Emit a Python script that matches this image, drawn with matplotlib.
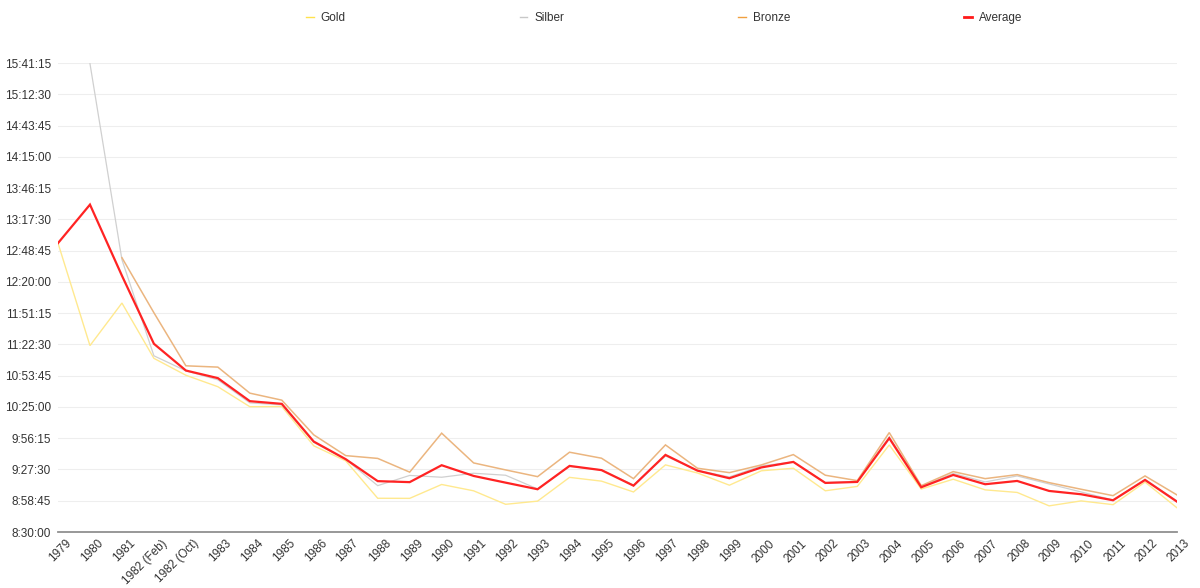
import numpy as np
import matplotlib.pyplot as plt
import matplotlib.transforms as mtransforms
from matplotlib.ticker import FuncFormatter

plt.rcParams['font.family'] = ['Liberation Sans', 'DejaVu Sans']

# Rennen / Kategorien
years = ["1979", "1980", "1981", "1982 (Feb)", "1982 (Oct)", "1983", "1984", "1985",
         "1986", "1987", "1988", "1989", "1990", "1991", "1992", "1993", "1994",
         "1995", "1996", "1997", "1998", "1999", "2000", "2001", "2002", "2003",
         "2004", "2005", "2006", "2007", "2008", "2009", "2010", "2011", "2012", "2013"]

gold = ["12:55:38", "11:21:24", "12:00:32", "11:09:40", "10:54:08", "10:43:36", "10:25:13",
        "10:25:22", "9:49:14", "9:35:25", "9:01:01", "9:00:56", "9:13:42", "9:07:52",
        "8:55:28", "8:58:23", "9:20:14", "9:16:46", "9:06:49", "9:31:43", "9:24:16",
        "9:13:02", "9:26:17", "9:28:37", "9:07:54", "9:11:55", "9:50:04", "9:09:30",
        "9:18:31", "9:08:45", "9:06:23", "8:54:02", "8:58:36", "8:55:08", "9:15:54",
        "8:52:14"]

silber = [None, "15:40:40", "12:40:24", "11:12:01", "10:58:13", "10:49:56", "10:28:45",
          "10:26:55", "9:52:24", "9:36:45", "9:12:37", "9:22:01", "9:20:21", "9:24:02",
          "9:22:12", "9:09:35", "9:30:18", "9:27:05", "9:13:16", "9:39:58", "9:26:37",
          "9:20:38", "9:30:46", "9:34:26", "9:15:34", "9:16:29", "9:57:27", "9:11:53",
          "9:23:51", "9:16:02", "9:21:33", "9:14:11", "9:06:49", "8:59:27", "9:18:20",
          "8:58:32"]

bronze = [None, None, "12:42:14", "11:51:36", "11:02:49", "11:01:37", "10:37:41",
          "10:31:14", "9:59:18", "9:40:14", "9:37:40", "9:25:03", "10:00:52", "9:33:31",
          "9:27:05", "9:20:54", "9:43:22", "9:37:51", "9:19:04", "9:50:05", "9:28:38",
          "9:24:35", "9:31:41", "9:41:10", "9:22:12", "9:17:14", "10:01:25", "9:12:37",
          "9:25:31", "9:19:04", "9:22:45", "9:15:23", "9:09:19", "9:03:25", "9:21:33",
          "9:04:04"]

average = ["12:55:38", "13:31:02", "12:25:40", "11:23:04", "10:58:29", "10:51:30", "10:30:19",
           "10:27:50", "9:53:08", "9:36:56", "9:16:46", "9:15:51", "9:31:24", "9:21:33",
           "9:15:23", "9:09:19", "9:30:46", "9:26:54", "9:12:37", "9:40:53", "9:26:26",
           "9:19:26", "9:29:23", "9:34:26", "9:15:07", "9:16:02", "9:56:16", "9:11:09",
           "9:22:28", "9:13:55", "9:16:57", "9:07:45", "9:04:42", "8:59:11", "9:17:52",
           "8:57:54"]


def to_sec(t):
    if t is None:
        return np.nan
    h, m, s = (int(v) for v in t.split(":"))
    return h * 3600 + m * 60 + s


def fmt(v, pos=None):
    v = int(round(v))
    return "%d:%02d:%02d" % (v // 3600, (v % 3600) // 60, v % 60)


fig = plt.figure(figsize=(12, 5.88), dpi=100)
ax = fig.add_axes([58/1200, 1 - 532/588, (1177 - 58)/1200, (532 - 63)/588])

x = np.arange(len(years))
series = [
    ("Gold", gold, "#ffe98f", 1.0, "#ffe24d"),
    ("Silber", silber, "#d0d0d0", 0.9, "#c8c8c8"),
    ("Bronze", bronze, "#ebb57f", 1.1, "#f0a040"),
    ("Average", average, "#ff2323", 1.6, "#ff1a1a"),
]
for name, vals, col, lw, lcol in series:
    ax.plot(x, [to_sec(v) for v in vals], color=col, lw=lw, solid_joinstyle='miter')

ymin, ymax = 30600, 56475
ax.set_ylim(ymin, ymax)
ax.set_xlim(0, len(years) - 1)
ax.set_yticks(np.arange(ymin, ymax + 1, 1725))
ax.yaxis.set_major_formatter(FuncFormatter(fmt))
ax.set_xticks(x)
ax.set_xticklabels(years, rotation=45, ha='right', va='top', rotation_mode='anchor')
ax.tick_params(axis='both', length=0, labelsize=8.5, colors='#333333')
ax.tick_params(axis='y', pad=5)
ax.tick_params(axis='x', pad=4)
# Beschriftungen leicht nach rechts schieben
shift = mtransforms.ScaledTranslation(7/100, 0, fig.dpi_scale_trans)
for lab in ax.get_xticklabels():
    lab.set_transform(lab.get_transform() + shift)
ax.grid(axis='y', color='#eeeeee', lw=0.8)
ax.set_axisbelow(True)
for s in ['left', 'right', 'top']:
    ax.spines[s].set_visible(False)
ax.spines['bottom'].set_color('#909090')
ax.spines['bottom'].set_linewidth(1.3)

# Legende oben
handles = []
for name, vals, col, lw, lcol in series:
    h, = ax.plot([], [], color=lcol, lw=2.0 if name == "Average" else 1.0, label=name)
    handles.append(h)
fig.legend(handles, [s[0] for s in series], loc='center left', ncol=4, frameon=False,
           bbox_to_anchor=(0.2465, 1 - 18/588, 0.614, 0), mode='expand',
           handlelength=0.6, handletextpad=0.6, fontsize=8.5, labelcolor='#333333')

fig.savefig("out.png", dpi=100, facecolor='white')
